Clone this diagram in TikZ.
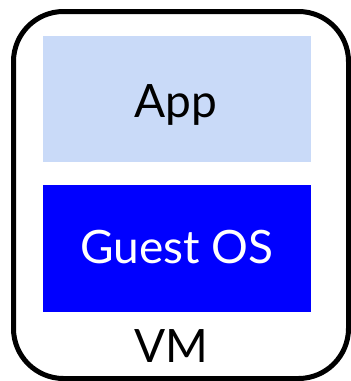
\documentclass[tikz,border=0pt]{standalone}
\usepackage{fontspec}
\setmainfont{Lato}
\definecolor{appblue}{HTML}{C9DAF8}
\definecolor{osblue}{HTML}{0000FF}
\begin{document}
\begin{tikzpicture}[x=1pt,y=-1pt,
  lbl/.style={font=\fontsize{46}{50}\selectfont, inner sep=0pt, anchor=base},
  layer/.style={draw=none, inner sep=0pt, minimum width=268pt, minimum height=126pt, anchor=north west}]
\useasboundingbox (0,0) rectangle (351,381);
\node[draw, line width=5pt, rounded corners=50pt, minimum width=335pt, minimum height=367pt, inner sep=0pt, anchor=north west] (vmbox) at (11,9) {};
\node[layer, fill=appblue] (appbox) at (43,36) {};
\node[layer, fill=osblue, minimum height=127pt] (osbox) at (43,185) {};
\node[lbl] (app) at (176,117) {App};
\node[lbl, text=white] (os) at (177,263) {Guest OS};
\node[lbl] (vm) at (171,362) {VM};
\end{tikzpicture}
\end{document}
